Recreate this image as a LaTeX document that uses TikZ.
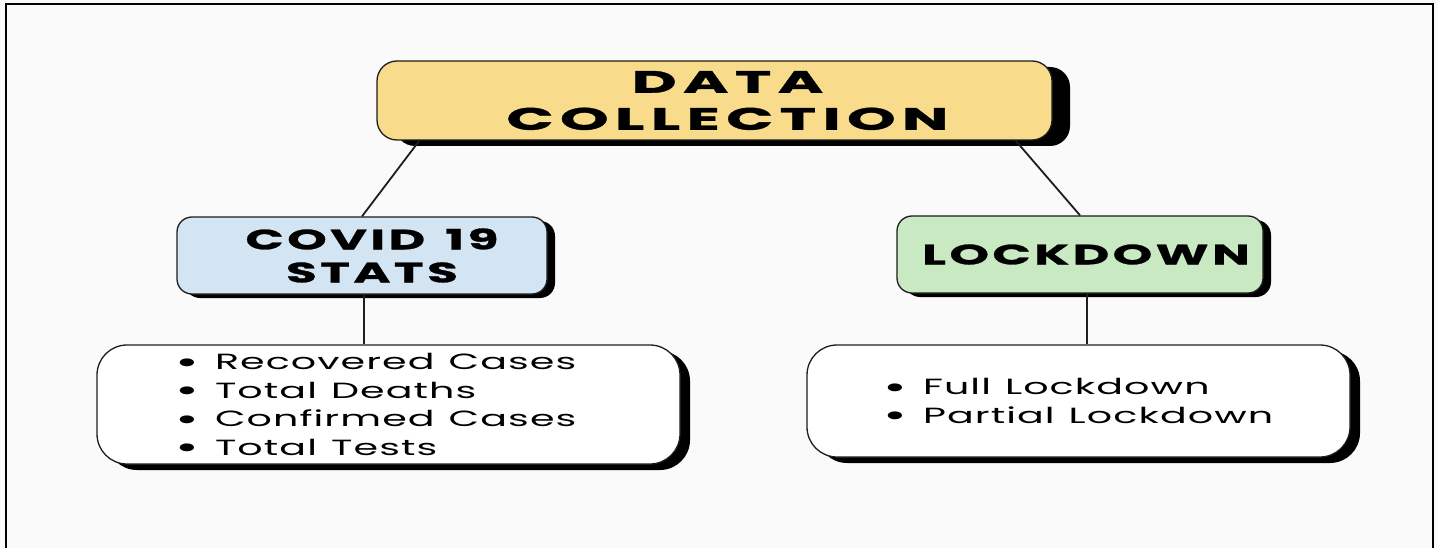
\documentclass[tikz,border=0pt]{standalone}
\usepackage{fontspec}
\usetikzlibrary{shadows}
\newfontfamily\headfont{Poppins}[FakeStretch=2.0,LetterSpace=20,FakeBold=1.2]
\newfontfamily\subfont{Poppins}[FakeStretch=1.8,LetterSpace=12,FakeBold=1]
\newfontfamily\listfont{Poppins}[FakeStretch=1.8,LetterSpace=5]
\definecolor{pagebg}{HTML}{FAFAFA}
\definecolor{headfill}{HTML}{F8DC8C}
\definecolor{statfill}{HTML}{D3E5F3}
\definecolor{lockfill}{HTML}{C9E9C2}
\definecolor{inkline}{HTML}{1E1E1E}
% wide word gaps
\newcommand{\ws}{\hspace*{14pt}}
\newcommand{\wsub}{\hspace*{20pt}}
% list bullet: a larger dot, lowered onto the middle of the lower-case letters
\newcommand{\bul}{\makebox[40pt][l]{\smash{\raisebox{-3.5pt}{\fontsize{32}{0}\selectfont •}}}}
% centred heading line, nudged to the right
\newcommand{\hl}[2]{\hspace*{#1}#2}
\begin{document}
\begin{tikzpicture}[x=1pt,y=-1pt,
  box/.style={draw=inkline, line width=1.3pt, inner sep=0pt, align=center,
    text=black},
  headbox/.style={box, fill=headfill, rounded corners=20pt,
    minimum width=675pt, minimum height=79pt,
    drop shadow={shadow xshift=18pt, shadow yshift=-6pt, fill=black, opacity=1},
    font=\headfont\bfseries\fontsize{31}{37}\selectfont},
  subbox/.style={box, rounded corners=15pt,
    minimum width=370pt, minimum height=77pt,
    drop shadow={shadow xshift=8pt, shadow yshift=-4pt, fill=black, opacity=1},
    font=\subfont\bfseries\fontsize{28}{33}\selectfont},
  listbox/.style={box, fill=white, rounded corners=30pt, align=left,
    inner ysep=0pt,
    drop shadow={shadow xshift=10pt, shadow yshift=-6pt, fill=black, opacity=1},
    font=\listfont\fontsize{22}{28.5}\selectfont},
  conn/.style={draw=inkline, line width=1.8pt}]
% page and frame
\fill[pagebg] (0,0) rectangle (1437,548);
\useasboundingbox (0,0) rectangle (1437,548);
\draw[black, line width=2pt] (6,549) -- (6,4) -- (1433,4) -- (1433,549);

% boxes
\node[headbox] (top) at (714.5,100.5) {\hl{26pt}{DATA}\\\hl{26pt}{COLLECTION}};
\node[subbox, fill=statfill] (covid) at (362,255.5) {\hl{20pt}{COVID\wsub 19}\\\hl{20pt}{STATS}};
\node[subbox, fill=lockfill, minimum width=366pt] (lock) at (1080,254.5) {\hl{12pt}{LOCKDOWN}};
\node[listbox, inner xsep=78pt, text width=427pt, minimum height=119pt] (clist) at (388.5,404.5)
  {\bul Recovered\ws Cases\\ \bul Total\ws Deaths\\ \bul Confirmed\ws Cases\\ \bul Total\ws Tests};
\node[listbox, inner xsep=76pt, text width=391pt, minimum height=112pt] (llist) at (1078.5,401)
  {\bul Full\ws Lockdown\\ \bul Partial\ws Lockdown};

% connectors
\draw[conn] ([xshift=43pt]top.south west) -- (covid.north);
\draw[conn] ([xshift=-37pt]top.south east) -- (lock.north);
\draw[conn] ([xshift=2pt]covid.south) -- ([xshift=2pt]covid.south |- clist.north);
\draw[conn] ([xshift=7pt]lock.south) -- ([xshift=7pt]lock.south |- llist.north);
\end{tikzpicture}
\end{document}
